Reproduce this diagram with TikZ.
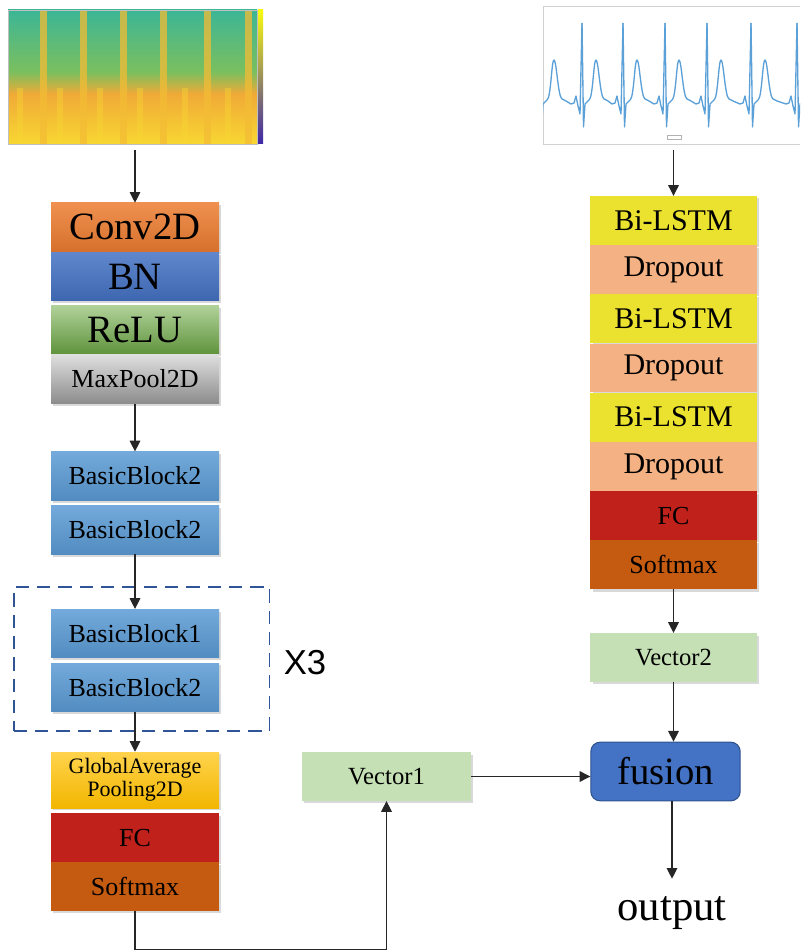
\documentclass[tikz,border=0pt]{standalone}
\usepackage{fontspec}
\setmainfont{Liberation Serif}
\newfontfamily\labelsans{Liberation Sans}
\usepackage{tikz}
\usetikzlibrary{arrows.meta, positioning, shadows, fit}
\definecolor{convor}{RGB}{237,125,49}
\definecolor{bnblue}{RGB}{68,114,196}
\definecolor{relugreen}{RGB}{112,173,71}
\definecolor{bbblue}{RGB}{91,155,213}
\definecolor{gapgold}{RGB}{255,192,0}
\definecolor{fcred}{RGB}{192,33,26}
\definecolor{smxor}{RGB}{197,90,17}
\definecolor{lstmyel}{RGB}{235,225,47}
\definecolor{dropsal}{RGB}{244,177,131}
\definecolor{vecgreen}{RGB}{197,224,180}
\definecolor{fusborder}{RGB}{47,82,143}
\definecolor{dashblue}{RGB}{47,85,151}
\definecolor{ecgblue}{RGB}{91,160,215}
\definecolor{spteal}{RGB}{60,182,150}
\definecolor{spgreen}{RGB}{150,195,70}
\definecolor{sporange}{RGB}{240,170,55}
\definecolor{spyellow}{RGB}{248,215,50}
\definecolor{pyellow}{RGB}{249,251,14}
\definecolor{pteal}{RGB}{30,175,175}
\definecolor{pblue}{RGB}{62,38,168}

\begin{document}
\begin{tikzpicture}[
  x=0.75pt, y=-0.75pt, node distance=0pt,
  layer/.style={rectangle, minimum width=126pt, minimum height=36.5pt, inner sep=0pt,
                align=center, font=\fontsize{19.5}{21}\selectfont,
                drop shadow={shadow xshift=1.8pt, shadow yshift=-1.8pt, opacity=0.3}},
  biglayer/.style={layer, font=\fontsize{29}{31}\selectfont},
  lstmlayer/.style={layer, minimum width=125pt, font=\fontsize{22.5}{24}\selectfont},
  arr/.style={-{Triangle[length=8pt, width=8pt]}, line width=0.8pt, color=black!85},
  dashbox/.style={draw=dashblue, line width=1.1pt, dash pattern=on 10pt off 6pt, inner sep=0pt},
  ecg/.style={draw=ecgblue, line width=1pt, line join=round}
]
  \useasboundingbox (0,0) rectangle (800,952);

  % spectrogram input
  \node[minimum width=195pt, minimum height=109.5pt, inner sep=0pt] (spec) at (135,77) {};
  \shade[top color=spteal, bottom color=spgreen!70!spteal] (8,10) rectangle (257,72);
  \shade[top color=spgreen!70!spteal, bottom color=sporange] (8,72) rectangle (257,94);
  \shade[top color=sporange, bottom color=spyellow] (8,94) rectangle (257,144);
  \foreach \s in {20,60,100,140,185,228}
    \fill[spyellow, opacity=0.4] (\s-3,88) rectangle (\s+3,144);
  \foreach \s in {43,83,123,163,207,248}
    \fill[sporange!60!spyellow, opacity=0.75] (\s-3.5,10) rectangle (\s+3.5,144);
  \shade[top color=pyellow, middle color=pteal, bottom color=pblue] (258,10) rectangle (263,144);
  \draw[gray!50, line width=0.3pt] (8,10) rectangle (257,144);

  % ecg input
  \node[minimum width=195pt, minimum height=109.5pt, inner sep=0pt] (ecg) at (670,77) {};
  \draw[gray!35, line width=0.4pt] (800,6) -- (543,6) -- (543,144) -- (800,144);
  \begin{scope}
    \clip (543,6) rectangle (800,144);
    \foreach \r/\n in {540/582, 582/623, 623/665, 665/707, 707/751, 751/797, 797/840}
      \draw[ecg] (\r,23) -- (\r+1.5,127) -- (\r+3,104) -- (\r+7,100)
        .. controls (\r+11,98) and (\r+11.5,60) .. (\r+14,60)
        .. controls (\r+16.5,60) and (\r+18,97) .. (\r+22,99)
        -- (\r+26,101) -- (\n-11,104) -- (\n-8,103) -- (\n-6,96)
        -- (\n-4,106) -- (\n-2,114) -- (\n,23);
  \end{scope}
  \draw[gray!60, fill=white, line width=0.3pt] (667,135.5) rectangle (681,139.5);

  % CNN branch
  \node[biglayer, top color=convor!85!white, bottom color=convor!90!black] (conv) at (135,227.3) {Conv2D};
  \node[biglayer, top color=bnblue!85!white, bottom color=bnblue!90!black, below=of conv] (bn) {BN};
  \node[biglayer, top color=relugreen!55!white, bottom color=relugreen!85!black, below=3pt of bn] (relu) {ReLU};
  \node[layer, top color=gray!25, bottom color=gray!90, below=of relu] (mpool) {MaxPool2D};
  \node[layer, top color=bbblue!85!white, bottom color=bbblue!90!black] (bb2a) at (135,476) {BasicBlock2};
  \node[layer, top color=bbblue!85!white, bottom color=bbblue!90!black, below=3.5pt of bb2a] (bb2b) {BasicBlock2};
  \node[layer, top color=bbblue!85!white, bottom color=bbblue!90!black] (bb1) at (135,633.5) {BasicBlock1};
  \node[layer, top color=bbblue!85!white, bottom color=bbblue!90!black, below=3.5pt of bb1] (bb2c) {BasicBlock2};
  \node[dashbox, fit=(bb1)(bb2c), inner xsep=32.6pt, inner ysep=15.4pt, xshift=4.9pt, yshift=1pt] (rep3) {};
  \node[font=\labelsans\fontsize{26}{28}\selectfont] (times3) at (305,663) {X3};
  \node[layer, minimum height=42pt, font=\fontsize{16.5}{17.5}\selectfont,
        top color=gapgold!70!white, bottom color=gapgold!95!black] (gap) at (135,780) {GlobalAverage\\Pooling2D};
  \node[layer, fill=fcred, below=3.5pt of gap] (fca) {FC};
  \node[layer, fill=smxor, below=of fca] (smxa) {Softmax};

  % LSTM branch
  \node[lstmlayer, fill=lstmyel] (lstma) at (673.5,220.4) {Bi-LSTM};
  \node[lstmlayer, fill=dropsal, below=of lstma] (dropa) {Dropout};
  \node[lstmlayer, fill=lstmyel, below=of dropa] (lstmb) {Bi-LSTM};
  \node[lstmlayer, fill=dropsal, below=of lstmb] (dropb) {Dropout};
  \node[lstmlayer, fill=lstmyel, below=of dropb] (lstmc) {Bi-LSTM};
  \node[lstmlayer, fill=dropsal, below=of lstmc] (dropc) {Dropout};
  \node[layer, minimum width=125pt, fill=fcred, below=of dropc] (fcb) {FC};
  \node[layer, minimum width=125pt, fill=smxor, below=of fcb] (smxb) {Softmax};

  % fusion
  \node[layer, minimum width=125pt, fill=vecgreen, font=\fontsize{18.5}{20}\selectfont] (vec2) at (673.5,657.5) {Vector2};
  \node[layer, minimum width=126.75pt, fill=vecgreen, font=\fontsize{18.5}{20}\selectfont] (vec1) at (386.5,776.5) {Vector1};
  \node[rectangle, rounded corners=7pt, draw=fusborder, line width=0.8pt, fill=bnblue,
        minimum width=112pt, minimum height=44pt, font=\fontsize{29}{31}\selectfont] (fusion) at (665.5,771.5) {fusion};
  \node[inner xsep=0pt, inner ysep=13.5pt, font=\fontsize{32}{34}\selectfont] (out) at (672,913.5) {output};
  \coordinate (turn) at (135,949.5);

  \draw[arr] (spec.south) -- (conv.north);
  \draw[arr] (mpool.south) -- (bb2a.north);
  \draw[arr] (bb2b.south) -- (bb1.north);
  \draw[arr] (bb2c.south) -- (gap.north);
  \draw[arr] (smxa.south) -- (turn) -| (vec1.south);
  \draw[arr] (ecg.south -| lstma.north) -- (lstma.north);
  \draw[arr] (smxb.south) -- (vec2.north);
  \draw[arr] (vec2.south) -- (vec2.south |- fusion.north);
  \draw[arr] (vec1.east) -- (vec1.east -| fusion.west);
  \draw[arr] (out.north |- fusion.south) -- (out.north);
\end{tikzpicture}
\end{document}
